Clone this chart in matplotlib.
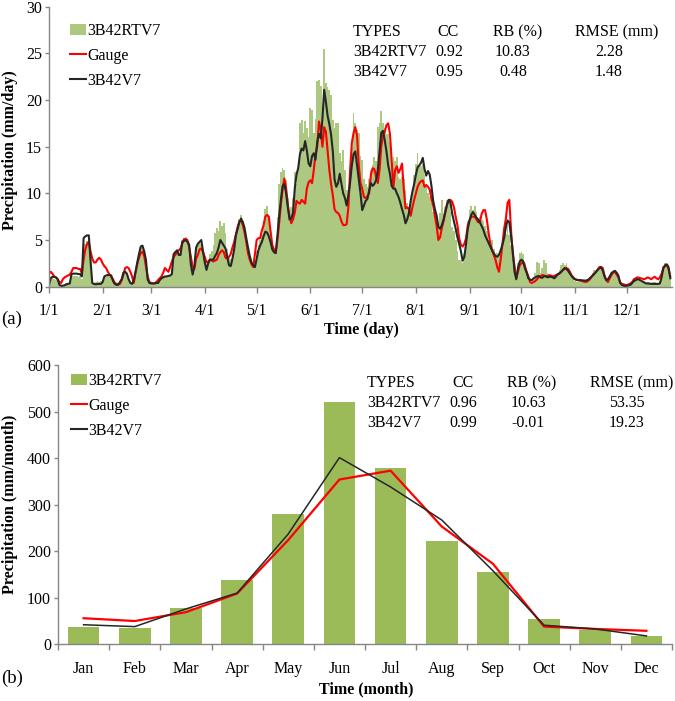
# -*- coding: utf-8 -*-
"""
Daily (a) and monthly (b) precipitation: 3B42RTV7 bars against Gauge
and 3B42V7 lines, with the CC / RB / RMSE table in each panel.
"""
import numpy as np
import matplotlib
matplotlib.use("Agg")
import matplotlib.pyplot as plt
from matplotlib.patches import Patch
from matplotlib.lines import Line2D

plt.rcParams['font.family'] = ['Liberation Serif', 'DejaVu Serif']

#------------------------------- data ----------------------------------------#
# daily values (mm/day), 1 Jan .. 26 Dec as shown on the axis
gauge_daily = [
    # Jan
    1.4, 1.6, 1.4, 1.1, 1.0, 0.8, 0.5, 0.4, 0.8, 1.0, 1.1, 1.2, 1.3, 1.6, 2.0, 2.0,
    2.0, 1.9, 1.9, 1.4, 2.9, 4.0, 4.6, 4.8, 3.8, 3.0, 2.6, 2.6, 2.9, 3.1, 2.9,
    # Feb
    2.5, 2.2, 2.0, 1.6, 1.3, 1.0, 0.8, 0.4, 0.3, 0.3, 0.3, 0.7, 1.3, 2.0, 2.1, 2.0,
    1.6, 1.1, 0.4, 1.5, 2.4, 3.1, 3.6, 3.75, 3.3, 2.2, 1.1, 0.5,
    # Mar
    0.4, 0.35, 0.35, 0.5, 0.7, 0.9, 1.1, 1.5, 2.0, 1.8, 1.6, 2.1, 2.7, 3.2, 3.4, 3.7,
    3.9, 4.1, 4.6, 5.1, 5.1, 5.0, 4.2, 3.2, 2.1, 1.9, 3.0, 3.4, 4.0, 4.1, 3.7,
    # Apr
    3.2, 2.6, 2.7, 2.9, 2.8, 2.7, 2.8, 2.9, 3.4, 3.7, 3.9, 3.7, 3.1, 3.0, 3.2, 3.5,
    4.2, 4.8, 5.6, 6.4, 7.0, 7.1, 6.6, 5.8, 4.8, 3.6, 2.9, 2.4, 2.1, 3.5,
    # May
    5.0, 5.2, 5.2, 6.0, 6.6, 7.5, 7.7, 7.5, 6.0, 4.5, 4.0, 3.6, 5.0, 6.8, 8.8, 10.5,
    11.6, 10.6, 8.8, 7.5, 6.8, 7.2, 7.9, 9.2, 9.0, 8.9, 9.3, 9.1, 8.9, 10.5, 11.2,
    # Jun
    11.4, 11.1, 12.5, 14.2, 15.0, 17.7, 16.8, 15.0, 17.1, 16.6, 14.5, 12.5, 11.0, 9.8,
    8.3, 8.0, 7.9, 7.6, 7.0, 6.6, 6.6, 6.7, 8.5, 12.5, 15.4, 16.5, 17.1, 16.2, 13.0, 11.1,
    # Jul
    10.5, 9.6, 9.5, 9.7, 10.0, 12.0, 12.7, 12.6, 11.8, 11.1, 12.5, 15.0, 16.2, 16.6,
    17.3, 17.5, 16.4, 13.6, 10.6, 12.5, 12.9, 12.2, 12.6, 13.2, 10.5, 8.4, 8.5, 8.3,
    7.6, 8.5, 9.3,
    # Aug
    10.0, 10.7, 11.1, 11.3, 11.4, 10.7, 10.9, 10.7, 10.4, 9.4, 8.7, 7.6, 6.5, 5.0, 5.3,
    6.3, 7.0, 8.0, 8.8, 9.3, 9.3, 9.1, 8.5, 7.5, 6.6, 5.2, 4.5, 4.3, 4.6, 5.2, 6.6,
    # Sep
    7.1, 7.5, 7.5, 7.5, 7.2, 6.9, 6.9, 7.8, 8.2, 8.2, 7.2, 5.8, 4.6, 3.9, 3.4, 2.9,
    2.1, 1.6, 2.9, 4.5, 6.2, 7.3, 9.0, 9.3, 6.0, 3.5, 2.2, 0.9, 1.6, 2.3,
    # Oct
    2.5, 2.7, 2.2, 1.6, 1.1, 0.5, 0.4, 0.5, 0.6, 0.8, 1.0, 1.1, 1.25, 1.2, 1.1, 1.1,
    1.25, 1.2, 1.1, 1.15, 1.25, 1.3, 1.4, 1.6, 1.8, 1.9, 2.0, 1.9, 1.6, 1.2, 1.0,
    # Nov
    0.8, 0.7, 0.7, 0.7, 0.6, 0.55, 0.5, 0.55, 0.7, 0.9, 1.2, 1.4, 1.6, 1.8, 2.1, 2.1,
    2.0, 1.2, 0.7, 0.5, 0.9, 1.25, 1.5, 1.6, 1.3, 1.0, 0.5, 0.3, 0.25, 0.2,
    # Dec
    0.2, 0.25, 0.35, 0.5, 0.8, 0.9, 1.0, 0.95, 0.9, 0.85, 0.8, 0.9, 1.0, 0.9, 0.8,
    0.95, 1.07, 0.9, 0.8, 1.0, 1.4, 2.0, 2.2, 2.3, 1.9, 1.1,
]

v7_daily = [
    # Jan
    0.2, 0.9, 1.07, 1.05, 1.0, 0.8, 0.2, 0.1, 0.1, 0.15, 0.25, 0.3, 0.35, 1.35, 1.4,
    1.4, 1.4, 1.35, 1.35, 1.1, 5.2, 5.4, 5.5, 5.5, 2.8, 0.4, 0.3, 0.25, 0.3, 0.3, 0.3,
    # Feb
    0.5, 1.1, 1.2, 1.25, 1.25, 1.2, 0.6, 0.3, 0.2, 0.2, 0.5, 0.8, 1.5, 1.6, 1.4, 0.8,
    0.4, 0.3, 0.7, 1.6, 2.6, 3.5, 4.3, 4.4, 3.8, 2.9, 0.8, 0.4,
    # Mar
    0.35, 0.35, 0.35, 0.4, 0.4, 0.7, 0.9, 1.0, 1.1, 1.1, 1.15, 1.2, 1.35, 3.5, 3.7,
    3.9, 3.4, 3.4, 4.8, 4.9, 5.0, 4.8, 4.5, 2.3, 1.3, 2.2, 4.2, 4.6, 4.8, 5.0, 3.8,
    # Apr
    2.6, 1.8, 2.5, 2.9, 2.9, 2.9, 3.3, 3.6, 4.2, 5.0, 4.7, 4.4, 4.1, 3.2, 2.3, 2.2,
    3.0, 4.0, 5.5, 6.2, 6.9, 7.3, 6.9, 6.3, 5.2, 4.2, 3.3, 2.6, 2.3, 2.1,
    # May
    3.0, 3.9, 4.4, 4.8, 5.4, 5.9, 5.8, 5.4, 4.8, 4.0, 3.7, 3.6, 5.5, 7.6, 9.3, 10.8,
    11.0, 10.0, 8.5, 7.2, 7.3, 7.9, 10.5, 12.0, 12.7, 14.2, 14.8, 14.6, 15.6, 14.6, 13.2,
    # Jun
    12.9, 14.0, 14.3, 13.6, 15.5, 16.4, 15.9, 18.0, 21.1, 19.8, 18.3, 17.4, 16.3, 14.5,
    11.5, 10.7, 11.1, 12.1, 11.0, 10.0, 9.5, 8.7, 9.8, 11.2, 13.0, 14.2, 14.5, 13.0,
    11.5, 10.0,
    # Jul
    8.2, 8.7, 9.2, 9.4, 10.3, 11.1, 10.8, 11.0, 11.4, 12.5, 14.5, 16.5, 16.7, 15.7,
    14.5, 13.0, 12.1, 10.8, 10.5, 10.5, 10.0, 9.6, 9.0, 8.3, 7.7, 6.8, 7.2, 7.9, 9.2,
    10.2, 11.0,
    # Aug
    12.0, 12.8, 13.0, 13.3, 13.8, 12.6, 11.9, 12.4, 12.0, 10.8, 9.2, 8.3, 7.6, 6.4,
    6.2, 6.6, 7.2, 8.0, 8.8, 9.3, 9.0, 7.8, 7.0, 6.2, 5.3, 4.6, 3.8, 2.8, 3.2, 4.6, 6.2,
    # Sep
    7.1, 7.7, 8.0, 7.7, 7.4, 7.2, 6.9, 6.5, 6.1, 5.5, 5.1, 4.7, 4.3, 3.9, 3.6, 3.3,
    3.2, 3.4, 3.9, 4.5, 5.2, 6.4, 7.1, 6.9, 5.4, 3.8, 1.6, 0.8, 2.0, 2.7,
    # Oct
    2.9, 2.7, 2.0, 1.5, 0.9, 0.75, 0.7, 0.9, 1.0, 1.1, 1.15, 1.0, 0.95, 1.1, 1.15,
    1.0, 1.05, 1.07, 1.0, 0.9, 1.1, 1.35, 1.45, 1.6, 1.8, 2.0, 1.9, 1.7, 1.4, 1.15, 0.9,
    # Nov
    0.8, 0.75, 0.7, 0.7, 0.68, 0.65, 0.65, 0.7, 0.8, 1.0, 1.15, 1.35, 1.55, 1.8, 1.95,
    2.1, 1.7, 1.1, 0.7, 0.8, 1.1, 1.45, 1.6, 1.7, 1.5, 1.2, 0.4, 0.2, 0.1, 0.07,
    # Dec
    0.1, 0.15, 0.2, 0.4, 0.6, 0.7, 0.8, 0.75, 0.65, 0.55, 0.45, 0.35, 0.35, 0.32, 0.3,
    0.3, 0.3, 0.3, 0.3, 0.35, 1.0, 2.0, 2.3, 2.4, 2.1, 0.9,
]

rtv7_daily = [
    # Jan
    0.5, 0.8, 0.9, 0.8, 0.7, 0.6, 0.2, 0.1, 0.2, 0.3, 0.4, 0.4, 0.5, 1.0, 1.2, 1.1,
    1.2, 1.0, 1.1, 0.8, 4.2, 4.6, 4.9, 4.7, 2.0, 0.5, 0.4, 0.5, 0.6, 0.5, 0.6,
    # Feb
    0.7, 0.9, 1.0, 1.1, 1.0, 0.9, 0.6, 0.3, 0.3, 0.2, 0.5, 0.9, 1.4, 1.5, 1.3, 0.8,
    0.4, 0.3, 0.8, 1.5, 2.6, 3.6, 4.2, 4.4, 3.8, 2.6, 0.8, 0.4,
    # Mar
    0.3, 0.3, 0.4, 0.5, 0.7, 1.0, 1.1, 1.2, 1.1, 1.0, 1.2, 1.3, 2.0, 3.4, 3.8, 3.8,
    3.6, 3.9, 5.0, 5.2, 5.3, 5.0, 4.2, 2.0, 1.6, 2.5, 4.0, 4.5, 4.9, 4.6, 3.8,
    # Apr
    3.0, 2.4, 2.8, 3.5, 3.8, 4.5, 5.8, 6.3, 6.0, 7.0, 6.5, 6.8, 5.8, 4.0, 3.2, 3.0,
    3.5, 4.5, 5.6, 6.6, 7.3, 7.7, 7.0, 6.2, 5.0, 4.0, 3.2, 2.6, 2.4, 2.8,
    # May
    3.8, 4.5, 5.0, 5.6, 7.0, 8.3, 8.6, 7.6, 5.5, 4.3, 4.0, 3.9, 7.5, 11.0, 12.3, 12.7,
    12.5, 11.4, 9.5, 8.0, 8.5, 9.5, 12.3, 11.0, 12.5, 17.5, 17.9, 16.5, 17.8, 17.0, 16.0,
    # Jun
    19.1, 18.9, 16.5, 18.0, 22.0, 22.1, 21.5, 18.5, 25.5, 21.8, 21.4, 21.1, 20.5, 17.9,
    17.0, 17.5, 17.5, 14.3, 13.5, 14.6, 12.5, 10.4, 10.0, 12.0, 15.0, 18.6, 17.5, 16.8,
    16.5, 14.0,
    # Jul
    13.6, 11.5, 11.0, 10.7, 11.5, 12.5, 13.0, 13.9, 13.5, 17.1, 17.5, 18.8, 17.5, 17.0,
    16.4, 16.4, 15.5, 13.0, 13.9, 13.5, 13.9, 11.8, 11.5, 11.8, 11.5, 10.4, 9.0, 8.5,
    9.5, 10.5, 12.0,
    # Aug
    13.2, 14.3, 13.0, 12.9, 13.2, 12.0, 10.7, 10.0, 9.6, 9.0, 8.0, 7.5, 6.5, 6.5, 7.9,
    9.3, 7.9, 8.5, 9.3, 9.0, 8.0, 6.4, 6.0, 5.0, 3.8, 2.9, 2.9, 2.5, 3.5, 5.5, 7.0,
    # Sep
    8.2, 8.6, 8.2, 8.6, 8.0, 7.1, 7.5, 7.1, 7.0, 6.5, 6.0, 5.0, 4.6, 5.0, 4.0, 3.2,
    3.6, 3.5, 3.2, 4.0, 5.0, 5.7, 6.5, 5.5, 4.5, 3.0, 1.5, 1.0, 2.5, 3.6,
    # Oct
    3.75, 3.5, 2.5, 1.8, 1.0, 0.7, 0.5, 0.8, 1.5, 2.7, 2.5, 1.5, 2.0, 2.9, 2.5, 1.5,
    1.2, 1.0, 1.3, 1.0, 1.2, 1.5, 1.8, 2.3, 2.5, 2.3, 2.5, 2.0, 1.5, 1.0, 0.8,
    # Nov
    0.6, 0.5, 0.5, 0.6, 0.5, 0.5, 0.4, 0.5, 0.8, 1.2, 1.5, 1.8, 1.6, 2.0, 1.8, 2.2,
    1.8, 1.0, 0.6, 0.8, 1.0, 1.4, 1.6, 1.5, 1.2, 0.9, 0.4, 0.2, 0.1, 0.1,
    # Dec
    0.1, 0.2, 0.2, 0.3, 0.5, 0.6, 0.7, 0.6, 0.5, 0.5, 0.4, 0.4, 0.5, 0.5, 0.4, 0.5,
    0.5, 0.4, 0.4, 0.6, 1.5, 2.2, 2.5, 2.3, 1.8, 0.8,
]

# day-of-year where each month starts, and its tick label
month_start = [0, 31, 59, 90, 120, 151, 181, 212, 243, 273, 304, 334]
day_labels = ["1/1", "2/1", "3/1", "4/1", "5/1", "6/1",
              "7/1", "8/1", "9/1", "10/1", "11/1", "12/1"]

# monthly totals (mm/month)
months = ["Jan", "Feb", "Mar", "Apr", "May", "Jun",
          "Jul", "Aug", "Sep", "Oct", "Nov", "Dec"]
rtv7_month = [37, 36, 78, 138, 280, 521, 379, 222, 155, 54, 31, 18]
gauge_month = [56, 50, 69, 109, 224, 354, 373, 253, 173, 38, 33, 29]
v7_month = [42, 38, 76, 110, 237, 401, 338, 267, 158, 41, 33, 18]

# statistics tables
table_head = ["TYPES", "CC", "RB (%)", "RMSE (mm)"]
table_day = [["3B42RTV7", "0.92", "10.83", "2.28"],
             ["3B42V7", "0.95", "0.48", "1.48"]]
table_month = [["3B42RTV7", "0.96", "10.63", "53.35"],
               ["3B42V7", "0.99", "-0.01", "19.23"]]

#------------------------------- style ---------------------------------------#
GREEN = "#9BBB59"
GREEN_DAY = "#ADC981"
RED = "#FF0000"
BLACK = "#262626"
AXIS = "#868686"
FS = 11.5

W, H = 675, 701
fig = plt.figure(figsize=(W / 100, H / 100), dpi=100)


def px_axes(left, top, right, bottom):
    """axes from pixel edges of the picture"""
    return fig.add_axes([left / W, 1 - bottom / H, (right - left) / W, (bottom - top) / H])


def fx(x):
    return x / W


def fy(y):
    return 1 - y / H


def style_axes(ax):
    for side in ["top", "right"]:
        ax.spines[side].set_visible(False)
    for side in ["left", "bottom"]:
        ax.spines[side].set_color(AXIS)
        ax.spines[side].set_linewidth(1.0)
    ax.tick_params(axis="y", direction="out", length=3, width=1, color=AXIS,
                   labelsize=FS, pad=2)
    ax.tick_params(axis="x", direction="out", length=4, width=1, color=AXIS,
                   labelsize=FS, pad=8)


def draw_table(x_cols, y_rows, head, rows):
    """write the CC / RB / RMSE table as plain text"""
    fig.text(fx(x_cols[0]), fy(y_rows[0]), head[0], ha="left", va="center", fontsize=FS)
    for j in range(1, 4):
        fig.text(fx(x_cols[j][0]), fy(y_rows[0]), head[j], ha="center", va="center",
                 fontsize=FS)
    for i, row in enumerate(rows):
        fig.text(fx(x_cols[0]), fy(y_rows[i + 1]), row[0], ha="left", va="center",
                 fontsize=FS)
        for j in range(1, 4):
            fig.text(fx(x_cols[j][1]), fy(y_rows[i + 1]), row[j], ha="center",
                     va="center", fontsize=FS)


def add_legend(ax, x, y, bar_color):
    """legend without frame, top-left corner at pixel (x, y)"""
    handles = [Patch(facecolor=bar_color, edgecolor="none"),
               Line2D([], [], color=RED, lw=1.5),
               Line2D([], [], color=BLACK, lw=1.5)]
    ax.legend(handles, ["3B42RTV7", "Gauge", "3B42V7"], loc="upper left",
              bbox_to_anchor=(fx(x), fy(y)), bbox_transform=fig.transFigure,
              frameon=False, fontsize=FS, handlelength=1.0, handleheight=0.7,
              handletextpad=0.1, labelspacing=0.55, borderpad=0, borderaxespad=0)


#------------------------------- (a) daily -----------------------------------#
ax1 = px_axes(49, 6.7, 672, 286.7)
style_axes(ax1)
ax1.bar(np.arange(len(rtv7_daily)), rtv7_daily, width=1.0, color=GREEN_DAY,
        linewidth=0, label="3B42RTV7")
ax1.plot(np.arange(len(gauge_daily)), gauge_daily, color=RED, lw=1.5, label="Gauge")
ax1.plot(np.arange(len(v7_daily)), v7_daily, color=BLACK, lw=1.5, label="3B42V7")
ax1.set_xlim(0, 360)
ax1.set_ylim(0, 30)
ax1.set_yticks(np.arange(0, 31, 5))
ax1.set_xticks(month_start)
ax1.set_xticklabels(day_labels)

add_legend(ax1, 70, 23, GREEN_DAY)

draw_table([353, (448, 449), (518, 513), (617, 609)], [32, 52, 72],
           table_head, table_day)

fig.text(fx(10), fy(150), "Precipitation (mm/day)", rotation=90, ha="center",
         va="center", fontsize=FS, fontweight="bold")
fig.text(fx(361), fy(330), "Time (day)", ha="center", va="center", fontsize=FS,
         fontweight="bold")
fig.text(fx(12), fy(319), "(a)", ha="center", va="center", fontsize=FS + 2)

#------------------------------- (b) monthly ---------------------------------#
ax2 = px_axes(58, 365, 672, 644.3)
style_axes(ax2)
xm = np.arange(len(months))
ax2.bar(xm, rtv7_month, width=0.62, color=GREEN, linewidth=0, label="3B42RTV7")
ax2.plot(xm, gauge_month, color=RED, lw=1.6, label="Gauge")
ax2.plot(xm, v7_month, color=BLACK, lw=1.1, label="3B42V7")
ax2.set_xlim(-0.5, len(months) - 0.5)
ax2.set_ylim(0, 600)
ax2.set_yticks(np.arange(0, 601, 100))
# tick marks between months, labels in the middle of each month
ax2.set_xticks(np.arange(-0.5, len(months), 1.0))
ax2.set_xticklabels([])
ax2.set_xticks(xm, minor=True)
ax2.set_xticklabels(months, minor=True)
ax2.tick_params(axis="x", which="minor", length=0, labelsize=FS, pad=12)

add_legend(ax2, 71, 373, GREEN)

draw_table([367, (463, 463), (532, 528), (632, 627)], [383, 403, 423],
           table_head, table_month)

fig.text(fx(10), fy(504), "Precipitation (mm/month)", rotation=90, ha="center",
         va="center", fontsize=FS, fontweight="bold")
fig.text(fx(366), fy(689), "Time (month)", ha="center", va="center", fontsize=FS,
         fontweight="bold")
fig.text(fx(12), fy(678), "(b)", ha="center", va="center", fontsize=FS + 2)

fig.savefig("out.png", dpi=100)
